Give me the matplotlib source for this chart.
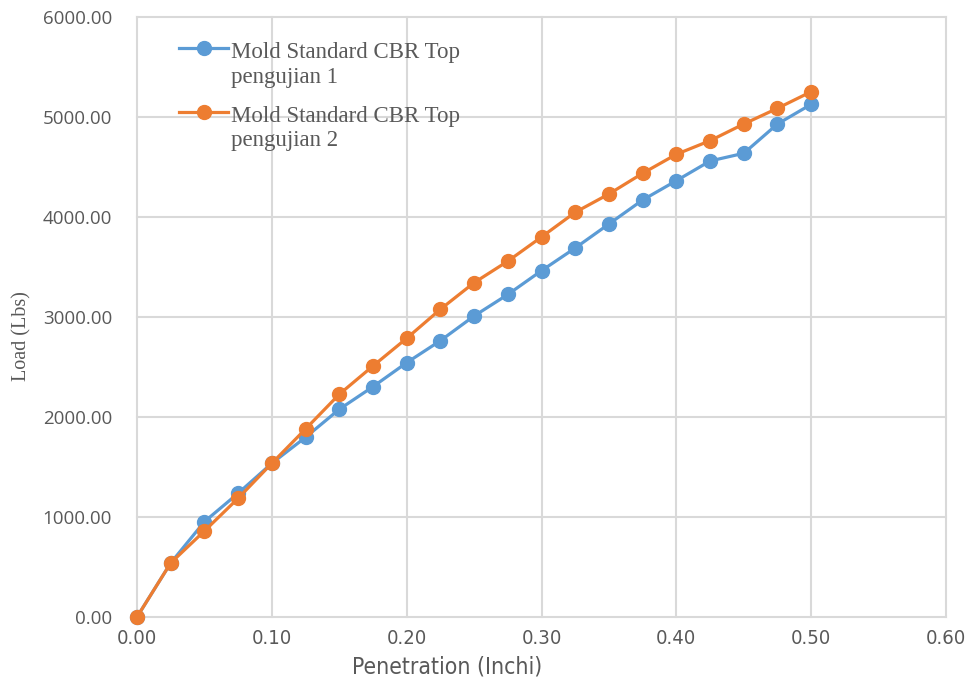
import matplotlib.pyplot as plt
from matplotlib.ticker import FormatStrFormatter
from matplotlib.legend_handler import HandlerLine2D

penetration = [0.000, 0.025, 0.050, 0.075, 0.100, 0.125, 0.150, 0.175, 0.200, 0.225, 0.250,
               0.275, 0.300, 0.325, 0.350, 0.375, 0.400, 0.425, 0.450, 0.475, 0.500]
load_test1 = [0, 540, 953, 1237, 1537, 1797, 2077, 2303, 2543, 2763, 3010,
              3225, 3463, 3690, 3930, 4170, 4363, 4560, 4637, 4930, 5127]
load_test2 = [0, 540, 860, 1187, 1537, 1880, 2227, 2510, 2787, 3077, 3343,
              3558, 3800, 4047, 4230, 4437, 4627, 4763, 4930, 5087, 5253]
labels = ["Mold Standard CBR Top\npengujian 1", "Mold Standard CBR Top\npengujian 2"]
x_ticks = [0.0, 0.1, 0.2, 0.3, 0.4, 0.5, 0.6]
y_ticks = [0, 1000, 2000, 3000, 4000, 5000, 6000]


# legend handle level with the first line of a two-line label (like Excel)
class TopLineHandler(HandlerLine2D):
    def create_artists(self, legend, orig_handle, xdescent, ydescent, width, height,
                       fontsize, trans):
        return super().create_artists(legend, orig_handle, xdescent, ydescent - 24,
                                      width, height, fontsize, trans)


fig = plt.figure(figsize=(9.71, 6.85), dpi=100)
ax = fig.add_axes([0.1411, 0.0993, 0.8332, 0.8759])

l1, = ax.plot(penetration, load_test1, color='#5B9BD5', lw=2.3, marker='o', ms=10,
              label=labels[0], clip_on=False, zorder=3)
l2, = ax.plot(penetration, load_test2, color='#ED7D31', lw=2.3, marker='o', ms=10,
              label=labels[1], clip_on=False, zorder=4)

ax.set_xlim(0, 0.6)
ax.set_ylim(0, 6000)
ax.set_xticks(x_ticks)
ax.set_yticks(y_ticks)
ax.xaxis.set_major_formatter(FormatStrFormatter('%.2f'))
ax.yaxis.set_major_formatter(FormatStrFormatter('%.2f'))

for s in ax.spines.values():
    s.set_visible(False)
ax.grid(True, color='#d9d9d9', lw=1.5)
ax.set_axisbelow(True)
for gl in ax.get_xgridlines() + ax.get_ygridlines():
    gl.set_clip_on(False)

ax.tick_params(axis='both', length=0, colors='#595959')
ax.tick_params(axis='y', pad=18)
ax.tick_params(axis='x', pad=9)
for t in ax.get_yticklabels():
    t.set_fontfamily('Open Sans')
    t.set_fontsize(13.5)
for t in ax.get_xticklabels():
    t.set_fontfamily('DejaVu Sans')
    t.set_fontstretch('condensed')
    t.set_fontsize(14.5)

ax.set_xlabel("Penetration (Inchi)", fontsize=16.5, color='#595959',
              family='DejaVu Sans', stretch='condensed')
ax.xaxis.set_label_coords(0.383, -0.064)
ax.set_ylabel("Load (Lbs)", fontsize=14.5, color='#595959', family='Liberation Serif')
ax.yaxis.set_label_coords(-0.13, 0.468)

leg = ax.legend(handles=[l1, l2], loc='upper left', bbox_to_anchor=(0.027, 0.992),
                frameon=False, prop={'family': 'Liberation Serif', 'size': 16.5},
                handlelength=2.1, handletextpad=0.15, labelspacing=0.8, borderpad=0.4,
                handler_map={l1: TopLineHandler(), l2: TopLineHandler()})
for t in leg.get_texts():
    t.set_color('#595959')
    t.set_linespacing(1.2)

fig.savefig('out.png', dpi=100)
